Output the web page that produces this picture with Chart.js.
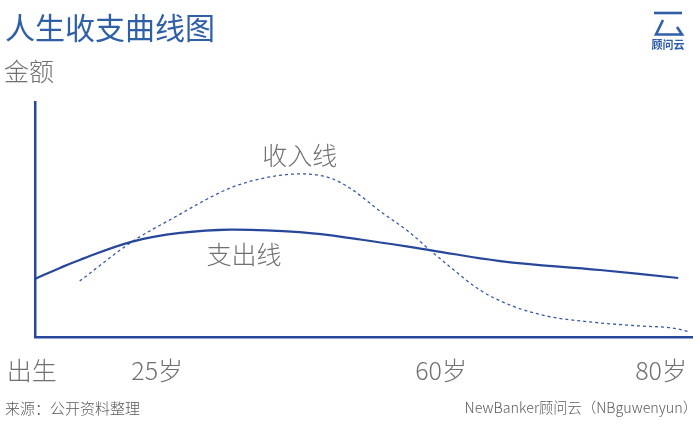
<!DOCTYPE html>
<html>
<head>
<meta charset="utf-8">
<script src="https://cdn.jsdelivr.net/npm/chart.js@4/dist/chart.umd.min.js"></script>
<style>
html,body{margin:0;padding:0;background:#fff;}
#wrap{position:relative;width:700px;height:425px;}
canvas{display:block;}
</style>
</head>
<body>
<div id="wrap"><canvas id="c" width="700" height="425"></canvas></div>
<script>
// ---- data (arbitrary units: x = life position 0..100, y = amount 0..100) ----
const spendX = [0, 3.8, 6.8, 14.8, 22.1, 29.7, 40.3, 49.5, 60.1, 70.8, 86.0, 97.9];
const spendY = [24.7, 29.4, 32.8, 40.6, 44.3, 45.7, 44.6, 41.5, 37.0, 32.3, 28.5, 25.1];
const incomeX = [6.8, 14.8, 20.5, 29.7, 35.0, 40.3, 44.9, 47.9, 52.5, 57.1, 60.1, 63.2, 67.7, 72.3, 77.9, 84.5, 92.1, 97.1, 99.7];
const incomeY = [23.8, 40.6, 49.8, 63.4, 67.7, 69.4, 67.7, 63.4, 53.6, 44.3, 37.0, 29.8, 20.0, 13.6, 8.9, 6.4, 4.7, 3.8, 2.1];
const tickLabels = ['出生', '25岁', '60岁', '80岁'];
const tickValues = [-0.5, 18.6, 61.8, 95.3];
const seriesNames = ['支出线', '收入线'];
const seriesLabelPos = [[31.8, 34.9], [40.3, 77.4]];

const CJK = '"Noto Sans CJK SC", "Noto Sans", sans-serif';
const lineBlue = '#27479a';
const dashBlue = '#3558a8';

const toPts = (xs, ys) => xs.map((x, i) => ({x: x, y: ys[i]}));

const decor = {
  id: 'decor',
  afterDraw(chart) {
    const ctx = chart.ctx;
    const xs = chart.scales.x, ys = chart.scales.y;
    ctx.save();
    // title
    ctx.fillStyle = '#2f5fa7';
    ctx.font = '30px ' + CJK;
    ctx.textBaseline = 'middle';
    ctx.textAlign = 'left';
    ctx.fillText('人生收支曲线图', 5, 28);
    // y axis title
    ctx.fillStyle = '#707070';
    ctx.font = '300 25px ' + CJK;
    ctx.fillText('金额', 4, 71);
    // x tick labels
    ctx.textAlign = 'center';
    tickLabels.forEach((t, i) => {
      ctx.fillText(t, xs.getPixelForValue(tickValues[i]), 370);
    });
    // series labels
    seriesNames.forEach((n, i) => {
      ctx.fillText(n, xs.getPixelForValue(seriesLabelPos[i][0]), ys.getPixelForValue(seriesLabelPos[i][1]));
    });
    // footer
    ctx.fillStyle = '#5a5a5a';
    ctx.font = '300 15px ' + CJK;
    ctx.textAlign = 'left';
    ctx.fillText('来源：公开资料整理', 5, 408);
    ctx.textAlign = 'right';
    ctx.font = '300 14.3px ' + CJK;
    ctx.fillText('NewBanker顾问云（NBguwenyun）', 697, 408);
    // logo
    ctx.strokeStyle = '#2f5fa7';
    ctx.lineWidth = 2.6;
    ctx.lineCap = 'butt';
    ctx.beginPath();
    ctx.moveTo(654, 13); ctx.lineTo(682, 13);
    ctx.stroke();
    ctx.beginPath();
    ctx.moveTo(663, 20); ctx.lineTo(656, 34.5); ctx.lineTo(682, 34.5); ctx.lineTo(677, 27);
    ctx.stroke();
    ctx.fillStyle = '#2f5fa7';
    ctx.font = 'bold 11px ' + CJK;
    ctx.textAlign = 'center';
    ctx.fillText('顾问云', 668, 45);
    ctx.restore();
  }
};

new Chart(document.getElementById('c'), {
  type: 'line',
  data: {
    datasets: [
      {
        label: seriesNames[0],
        data: toPts(spendX, spendY),
        borderColor: lineBlue,
        borderWidth: 2.2,
        pointRadius: 0,
        tension: 0.4,
        fill: false
      },
      {
        label: seriesNames[1],
        data: toPts(incomeX, incomeY),
        borderColor: dashBlue,
        borderWidth: 1.3,
        borderDash: [3, 3],
        pointRadius: 0,
        cubicInterpolationMode: 'monotone',
        fill: false
      }
    ]
  },
  options: {
    responsive: false,
    animation: false,
    layout: {padding: {left: 35, right: 8, top: 102, bottom: 88}},
    plugins: {legend: {display: false}, tooltip: {enabled: false}},
    scales: {
      x: {
        type: 'linear', min: 0, max: 100,
        grid: {display: false, drawTicks: false},
        ticks: {display: false},
        border: {display: true, color: lineBlue, width: 2.5}
      },
      y: {
        type: 'linear', min: 0, max: 100,
        grid: {display: false, drawTicks: false},
        ticks: {display: false},
        border: {display: true, color: lineBlue, width: 2.5}
      }
    }
  },
  plugins: [decor]
});
</script>
</body>
</html>
